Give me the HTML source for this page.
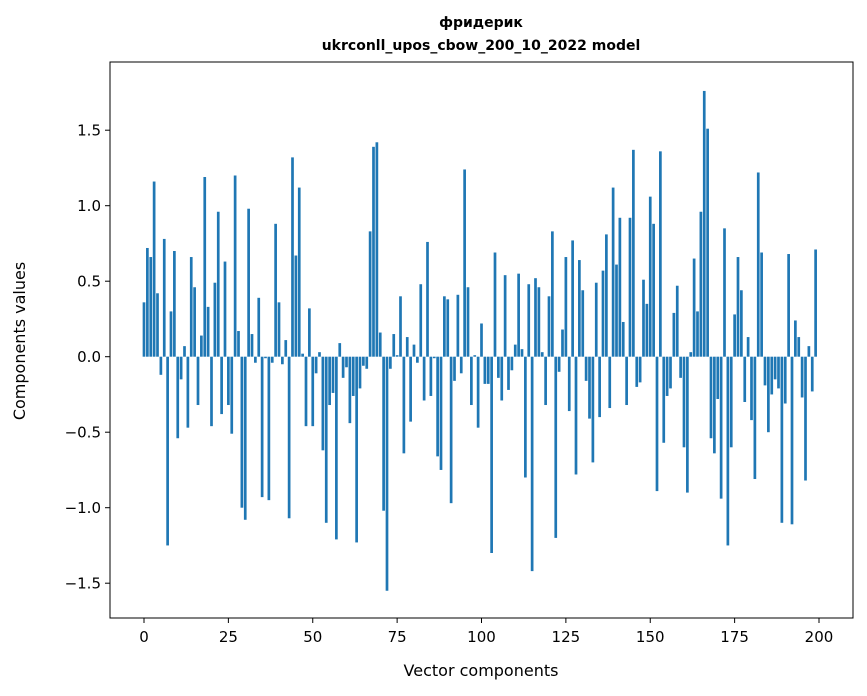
<!DOCTYPE html>
<html><head><meta charset="utf-8"><style>
html,body{margin:0;padding:0;background:#fff;}
svg{display:block;font-family:"DejaVu Sans","Liberation Sans",sans-serif;}
</style></head><body>
<svg id="chart" width="867" height="696">
<text x="481" y="27" text-anchor="middle" font-size="14" font-weight="bold">фридерик</text>
<text x="481" y="50" text-anchor="middle" font-size="14" font-weight="bold">ukrconll_upos_cbow_200_10_2022 model</text>
<g id="bars"></g>
<rect x="110" y="62" width="743" height="556" fill="none" stroke="#000" stroke-width="1"/>
<g id="xticks"></g>
<g id="yticks"></g>
<text x="481" y="676" text-anchor="middle" font-size="16">Vector components</text>
<text transform="translate(25,341) rotate(-90)" text-anchor="middle" font-size="16">Components values</text>
</svg>
<script>
const values = [0.36,0.72,0.66,1.16,0.42,-0.12,0.78,-1.25,0.30,0.70,
-0.54,-0.15,0.07,-0.47,0.66,0.46,-0.32,0.14,1.19,0.33,
-0.46,0.49,0.96,-0.38,0.63,-0.32,-0.51,1.20,0.17,-1.00,
-1.08,0.98,0.15,-0.04,0.39,-0.93,-0.01,-0.95,-0.04,0.88,
0.36,-0.05,0.11,-1.07,1.32,0.67,1.12,0.02,-0.46,0.32,
-0.46,-0.11,0.03,-0.62,-1.10,-0.32,-0.24,-1.21,0.09,-0.14,
-0.07,-0.44,-0.26,-1.23,-0.21,-0.06,-0.08,0.83,1.39,1.42,
0.16,-1.02,-1.55,-0.08,0.15,0.01,0.40,-0.64,0.13,-0.43,
0.08,-0.04,0.48,-0.29,0.76,-0.26,-0.01,-0.66,-0.75,0.40,
0.38,-0.97,-0.16,0.41,-0.11,1.24,0.46,-0.32,0.01,-0.47,
0.22,-0.18,-0.18,-1.30,0.69,-0.14,-0.29,0.54,-0.22,-0.09,
0.08,0.55,0.05,-0.80,0.48,-1.42,0.52,0.46,0.03,-0.32,
0.40,0.83,-1.20,-0.10,0.18,0.66,-0.36,0.77,-0.78,0.64,
0.44,-0.16,-0.41,-0.70,0.49,-0.40,0.57,0.81,-0.34,1.12,
0.61,0.92,0.23,-0.32,0.92,1.37,-0.20,-0.17,0.51,0.35,
1.06,0.88,-0.89,1.36,-0.57,-0.26,-0.21,0.29,0.47,-0.14,
-0.60,-0.90,0.03,0.65,0.30,0.96,1.76,1.51,-0.54,-0.64,
-0.28,-0.94,0.85,-1.25,-0.60,0.28,0.66,0.44,-0.30,0.13,
-0.42,-0.81,1.22,0.69,-0.19,-0.50,-0.25,-0.15,-0.21,-1.10,
-0.31,0.68,-1.11,0.24,0.13,-0.27,-0.82,0.07,-0.23,0.71];
const xTickValues = [0,25,50,75,100,125,150,175,200];
const yTickValues = [-1.5,-1.0,-0.5,0.0,0.5,1.0,1.5];
const yTickLabels = ["\u22121.5","\u22121.0","\u22120.5","0.0","0.5","1.0","1.5"];

const NS="http://www.w3.org/2000/svg";
const X0=144, XS=3.375, Y0=356.7, YS=151;
function xScale(i){return X0+i*XS;}
function yScale(v){return Y0-v*YS;}

const barsG=document.getElementById('bars');
values.forEach((v,i)=>{
  const r=document.createElementNS(NS,'rect');
  const y1=yScale(Math.max(v,0)), y2=yScale(Math.min(v,0));
  r.setAttribute('x',xScale(i)-0.4*XS);
  r.setAttribute('width',0.8*XS);
  r.setAttribute('y',y1);
  r.setAttribute('height',Math.max(y2-y1,0.3));
  r.setAttribute('fill','#1f77b4');
  
  
  barsG.appendChild(r);
});
const xg=document.getElementById('xticks');
xTickValues.forEach(t=>{
  const x=xScale(t);
  const l=document.createElementNS(NS,'line');
  l.setAttribute('x1',x);l.setAttribute('x2',x);l.setAttribute('y1',618);l.setAttribute('y2',623);
  l.setAttribute('stroke','#000');
  
  
  xg.appendChild(l);
  const tx=document.createElementNS(NS,'text');
  tx.setAttribute('x',x);tx.setAttribute('y',642);tx.setAttribute('text-anchor','middle');tx.setAttribute('font-size','15');
  tx.textContent=t;
  
  
  xg.appendChild(tx);
});
const yg=document.getElementById('yticks');
yTickValues.forEach((t,k)=>{
  const y=yScale(t);
  const l=document.createElementNS(NS,'line');
  l.setAttribute('x1',105);l.setAttribute('x2',110);l.setAttribute('y1',y);l.setAttribute('y2',y);
  l.setAttribute('stroke','#000');
  
  
  yg.appendChild(l);
  const tx=document.createElementNS(NS,'text');
  tx.setAttribute('x',101);tx.setAttribute('y',y+5.5);tx.setAttribute('text-anchor','end');tx.setAttribute('font-size','15');
  tx.textContent=yTickLabels[k];
  
  
  yg.appendChild(tx);
});
</script>
</body></html>
